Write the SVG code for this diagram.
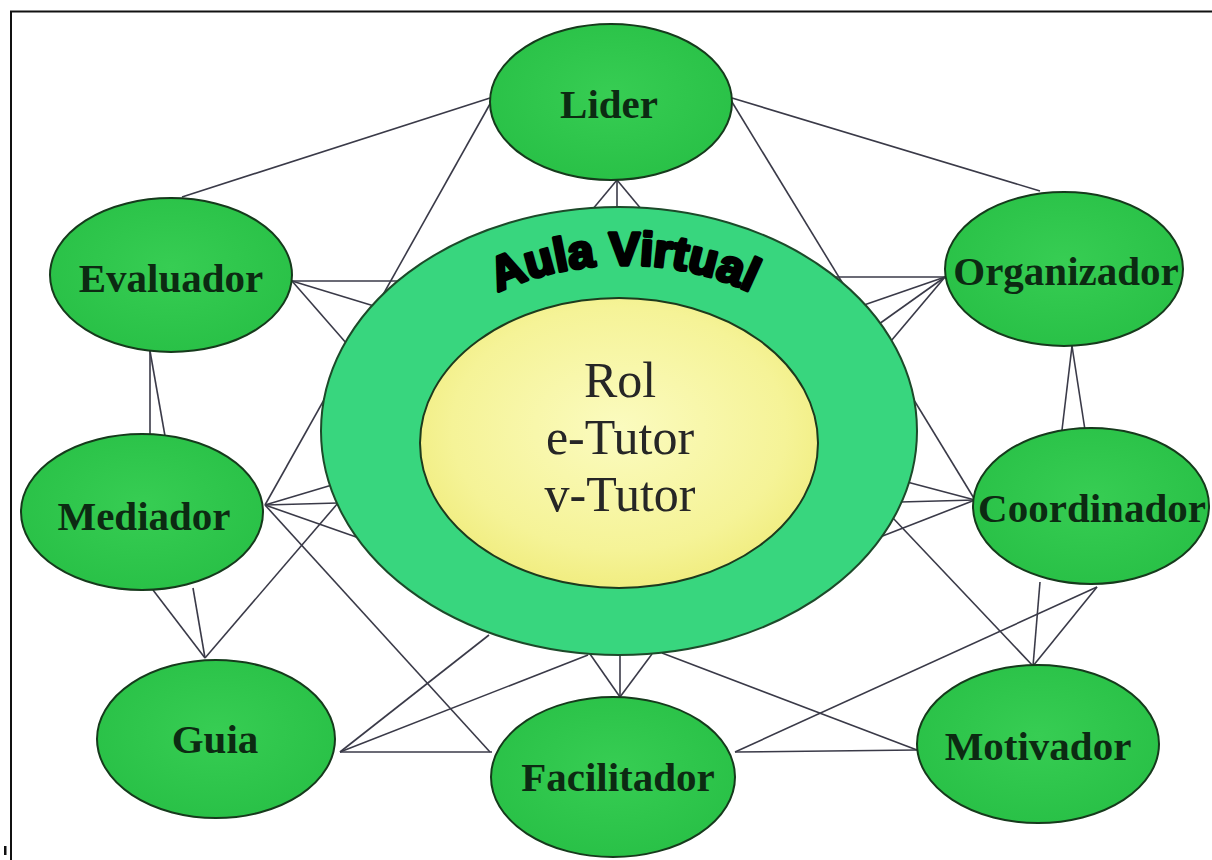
<svg xmlns="http://www.w3.org/2000/svg" width="1212" height="860" viewBox="0 0 1212 860">
<style>
.frame{stroke:#111;stroke-width:2;fill:none}
.conn line{stroke:#3a3a48;stroke-width:1.6}
.node{fill:url(#ng);stroke:#163a1c;stroke-width:2}
.lbl{font-family:"Liberation Serif","Times New Roman",serif;font-weight:bold;font-size:41px;fill:#0c2a12;text-anchor:middle}
.ctr{font-family:"Liberation Serif","Times New Roman",serif;font-size:50px;fill:#262626;text-anchor:middle}
.aula{font-family:"Liberation Sans",Arial,sans-serif;font-weight:bold;font-size:47px;fill:#000;stroke:#000;stroke-width:3.4;stroke-linejoin:round}
</style>
<defs>
<radialGradient id="ng" cx="50%" cy="45%" r="60%">
<stop offset="0" stop-color="#37cd53"/>
<stop offset="1" stop-color="#28c046"/>
</radialGradient>
<radialGradient id="yg" cx="50%" cy="45%" r="60%">
<stop offset="0" stop-color="#fbfbbf"/>
<stop offset="0.7" stop-color="#f5f397"/>
<stop offset="1" stop-color="#efeb78"/>
</radialGradient>
<path id="arc" d="M434,339 A225,160 0 0 1 814,339"/>
</defs>
<rect width="1212" height="860" fill="#fff"/>
<path class="frame" d="M11,860 L11,11.5 L1212,11.5"/>
<rect x="4" y="846" width="2.5" height="9" fill="#111"/>

<g id="connectors" class="conn">
<line x1="490" y1="98" x2="182" y2="197"/>
<line x1="490" y1="104" x2="265" y2="505"/>
<line x1="732" y1="98" x2="1040" y2="191"/>
<line x1="732" y1="102" x2="975" y2="500"/>
<line x1="617" y1="180" x2="592" y2="210"/>
<line x1="617" y1="180" x2="617" y2="210"/>
<line x1="617" y1="180" x2="642" y2="210"/>
<line x1="150" y1="351" x2="150" y2="436"/>
<line x1="150" y1="351" x2="165" y2="436"/>
<line x1="292" y1="281" x2="402" y2="281"/>
<line x1="292" y1="281" x2="374" y2="306"/>
<line x1="292" y1="281" x2="347" y2="344"/>
<line x1="945" y1="277" x2="833" y2="277"/>
<line x1="945" y1="277" x2="864" y2="305"/>
<line x1="945" y1="277" x2="879" y2="324"/>
<line x1="945" y1="277" x2="891" y2="341"/>
<line x1="1072" y1="346" x2="1062" y2="430"/>
<line x1="1072" y1="346" x2="1085" y2="430"/>
<line x1="265" y1="505" x2="332" y2="485"/>
<line x1="265" y1="505" x2="338" y2="503"/>
<line x1="265" y1="505" x2="359" y2="538"/>
<line x1="265" y1="505" x2="490" y2="752"/>
<line x1="153" y1="590" x2="205" y2="658"/>
<line x1="193" y1="588" x2="205" y2="658"/>
<line x1="205" y1="658" x2="338" y2="503"/>
<line x1="340" y1="752" x2="489" y2="635"/>
<line x1="340" y1="752" x2="588" y2="655"/>
<line x1="340" y1="752" x2="492" y2="752"/>
<line x1="620" y1="697" x2="590" y2="654"/>
<line x1="620" y1="697" x2="620" y2="654"/>
<line x1="620" y1="697" x2="652" y2="654"/>
<line x1="735" y1="752" x2="917" y2="750"/>
<line x1="735" y1="752" x2="1097" y2="587"/>
<line x1="662" y1="653" x2="917" y2="750"/>
<line x1="975" y1="500" x2="907" y2="482"/>
<line x1="975" y1="500" x2="900" y2="502"/>
<line x1="975" y1="500" x2="880" y2="537"/>
<line x1="1040" y1="582" x2="1033" y2="666"/>
<line x1="1097" y1="587" x2="1033" y2="666"/>
<line x1="892" y1="517" x2="1033" y2="666"/>
</g>

<g id="aula-virtual">
<ellipse cx="619" cy="431" rx="298" ry="224" fill="#38d67e" stroke="#1d4a2a" stroke-width="2"/>
<text class="aula"><textPath href="#arc" startOffset="50%" text-anchor="middle">Aula Virtual</textPath></text>
</g>

<g id="rol">
<ellipse cx="619" cy="443" rx="199" ry="145" fill="url(#yg)" stroke="#1d3a1d" stroke-width="2"/>
<text class="ctr" x="620" y="397">Rol</text>
<text class="ctr" x="620" y="454">e-Tutor</text>
<text class="ctr" x="620" y="511">v-Tutor</text>
</g>

<g id="lider"><ellipse class="node" cx="611" cy="102" rx="121" ry="78"/><text class="lbl" x="609" y="118">Lider</text></g>
<g id="evaluador"><ellipse class="node" cx="171" cy="275" rx="121" ry="77"/><text class="lbl" x="171" y="292">Evaluador</text></g>
<g id="organizador"><ellipse class="node" cx="1064" cy="269" rx="119" ry="77"/><text class="lbl" x="1066" y="285">Organizador</text></g>
<g id="mediador"><ellipse class="node" cx="142" cy="512" rx="121" ry="78"/><text class="lbl" x="144" y="530">Mediador</text></g>
<g id="coordinador"><ellipse class="node" cx="1091" cy="506" rx="118" ry="78"/><text class="lbl" x="1092" y="522">Coordinador</text></g>
<g id="guia"><ellipse class="node" cx="216" cy="739" rx="119" ry="79"/><text class="lbl" x="215" y="753">Guia</text></g>
<g id="facilitador"><ellipse class="node" cx="613" cy="777" rx="122" ry="80"/><text class="lbl" x="618" y="791">Facilitador</text></g>
<g id="motivador"><ellipse class="node" cx="1038" cy="744" rx="121" ry="79"/><text class="lbl" x="1038" y="760">Motivador</text></g>
</svg>
